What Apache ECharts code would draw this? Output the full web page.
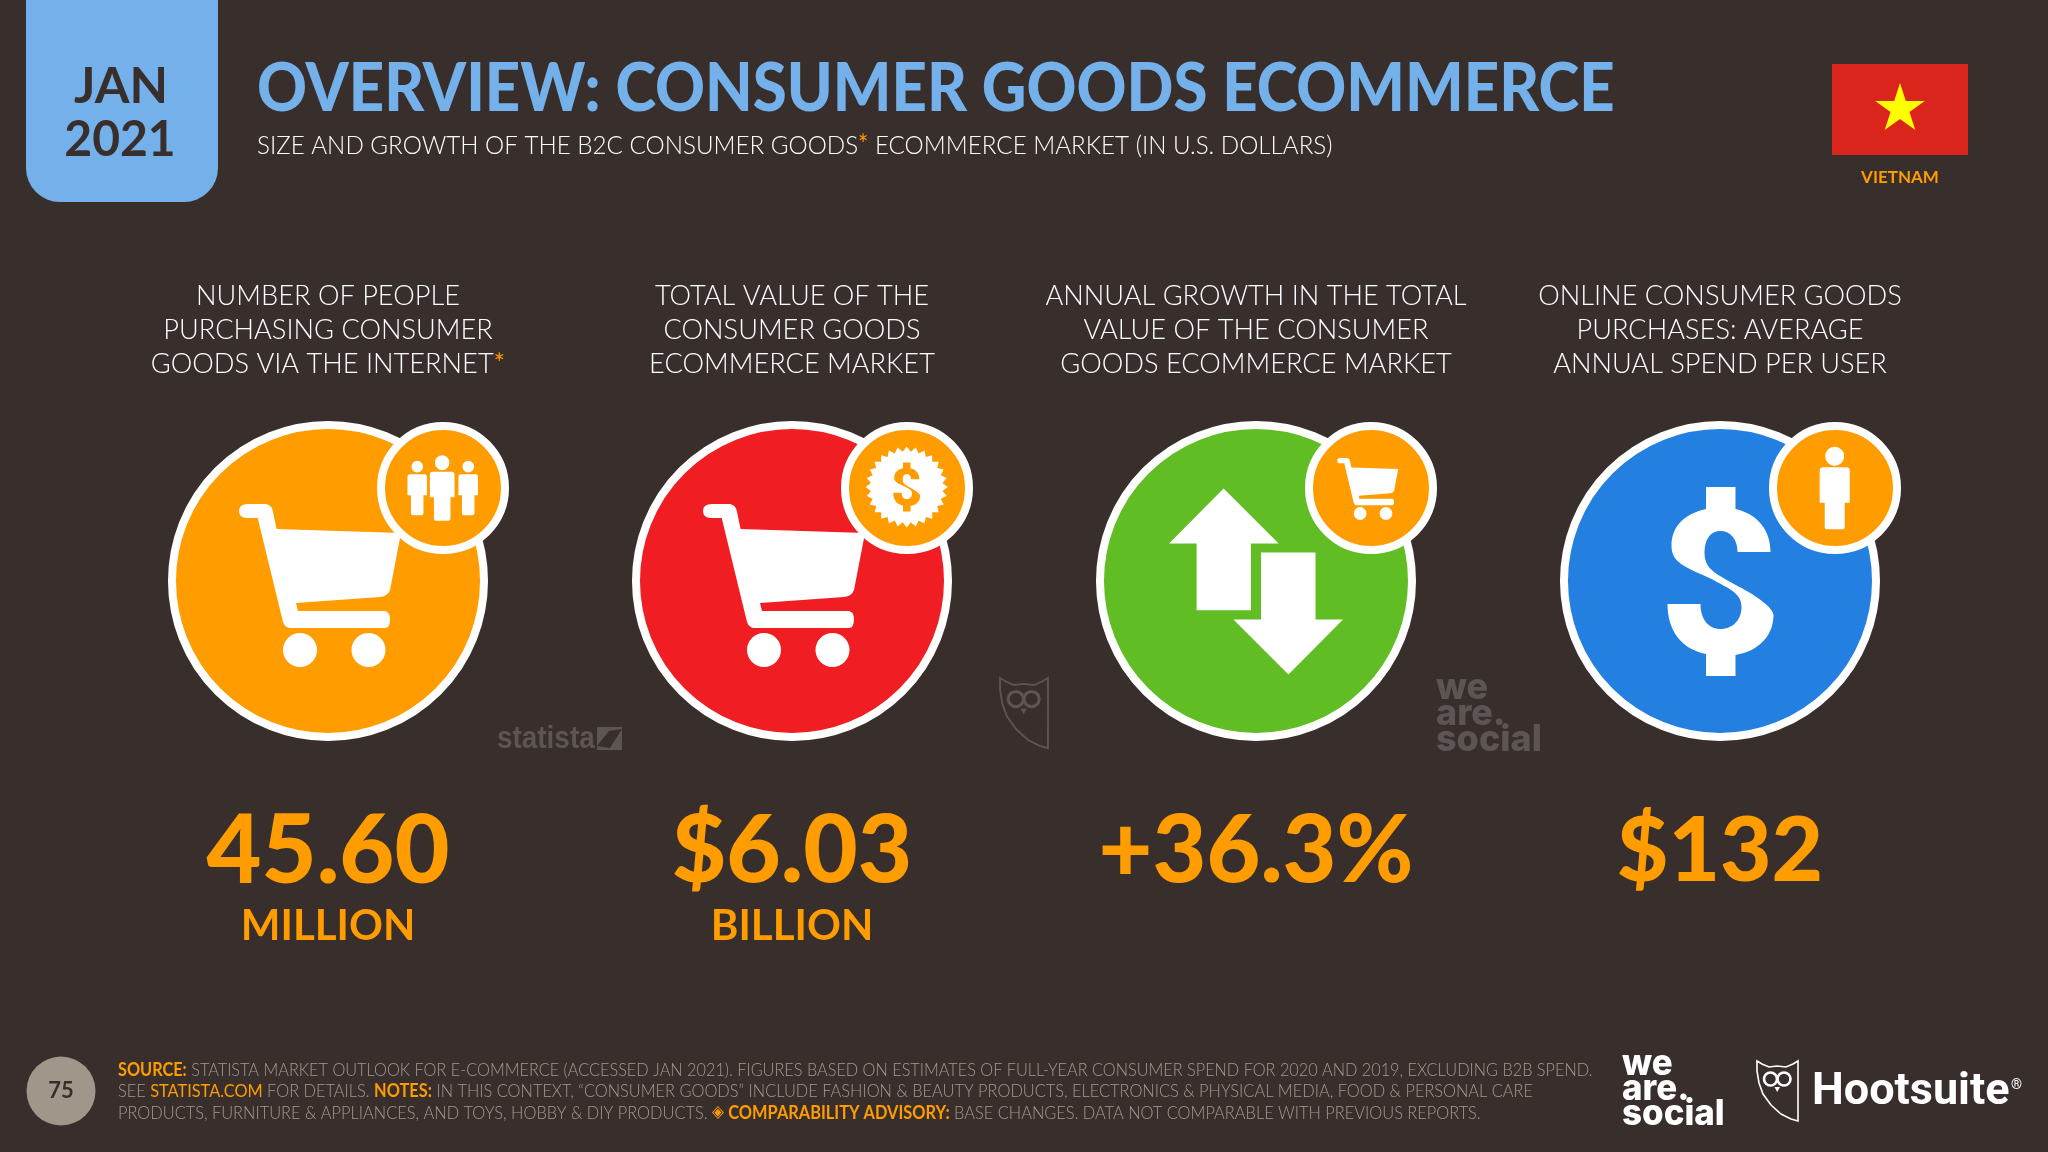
<!DOCTYPE html>
<html>
<head>
    <meta charset="UTF-8">
    <title>Overview: Consumer Goods Ecommerce</title>
    <style type="text/css">
        html, body { margin: 0; padding: 0; background: #382f2d; }
        #main { width: 2048px; height: 1152px; }
    </style>
    <script src="https://cdn.jsdelivr.net/npm/echarts@6/dist/echarts.min.js"></script>
</head>
<body>
<div id="main"></div>
<script>
    // data
    const metricTitles = [
        'NUMBER OF PEOPLE\nPURCHASING CONSUMER\nGOODS VIA THE INTERNET*',
        'TOTAL VALUE OF THE\nCONSUMER GOODS\nECOMMERCE MARKET',
        'ANNUAL GROWTH IN THE TOTAL\nVALUE OF THE CONSUMER\nGOODS ECOMMERCE MARKET',
        'ONLINE CONSUMER GOODS\nPURCHASES: AVERAGE\nANNUAL SPEND PER USER'
    ];
    const metricValues = ['45.60', '$6.03', '+36.3%', '$132'];
    const metricUnits = ['MILLION', 'BILLION', '', ''];

    const circleColors = ['#ff9c00', '#f01e23', '#61bd24', '#2380e0'];
    const valueFontSizes = [95, 94, 93, 89];
    const BG = '#382f2d';
    const ORANGE = '#ff9c00';
    const BLUE = '#74b0ea';
    const GREY = '#a39a8f';
    const MARK = '#5d5553';
    const FONT = 'Lato';

    // icon outlines
    const CART = 'path://M9 0L27 0Q33 1 34 8L37.6 25L162 29L151 86Q149 92 141 93L57 99L59 107L146 107Q151 108 151 115Q151 124 146 124L52 124Q46 124 44 118L18.7 14L8 14Q0 14 0 7Q0 0 9 0Z'
        + 'M44 146a17 17 0 1 0 34 0a17 17 0 1 0 -34 0Z'
        + 'M112.5 146a17 17 0 1 0 34 0a17 17 0 1 0 -34 0Z';
    const ARROWS = 'path://M54.6 0L109.7 55L82 55L82 121.7L27.6 121.7L27.6 55L0 55Z'
        + 'M92 64L146.5 64L146.5 131L174 131L119.5 186L64.4 131L92 131Z';
    const DOLLAR = 'path://M38.5 0L68 0L68 22C90 27 103 43 103 65L70 65C70 52 63 44 53 44C43 44 37 52 37 66'
        + 'C37 84 52 88 70 99C92 110 106 122 106 128C106 148 92 164 68 168L68 189L38.5 189L38.5 167'
        + 'C14 162 0 144 0 117L33 117C33 132 41 142 53 142C66 142 74 132 74 120C74 106 62 102 44 92'
        + 'C18 80 4 76 4 59C4 40 16 27 38.5 22Z';
    const PEOPLE = 'path://M25.5 16.7L44 16.7Q47.1 16.7 47.1 20L47.1 42L43 42L43 63Q43 65.7 40 65.7L29.5 65.7Q26.5 65.7 26.5 63L26.5 42L22.4 42L22.4 20Q22.4 16.7 25.5 16.7Z'
        + 'M27.5 7.5a7.2 7.5 0 1 0 14.4 0a7.2 7.5 0 1 0 -14.4 0Z'
        + 'M2.5 19L17 19Q19.5 19 19.5 21.5L19.5 40L16 40L16 58Q16 60 14 60L5.5 60Q3.5 60 3.5 58L3.5 40L0 40L0 21.5Q0 19 2.5 19Z'
        + 'M4 11.5a5.8 5.8 0 1 0 11.6 0a5.8 5.8 0 1 0 -11.6 0Z'
        + 'M53.6 19L68 19Q70.5 19 70.5 21.5L70.5 40L67 40L67 58Q67 60 65 60L56.5 60Q54.5 60 54.5 58L54.5 40L51 40L51 21.5Q51 19 53.6 19Z'
        + 'M55 11.5a5.8 5.8 0 1 0 11.6 0a5.8 5.8 0 1 0 -11.6 0Z';
    const PERSON = 'path://M3 20.5L27 20.5Q30 20.5 30 23.5L30 56L25 56L25 80Q25 82.6 22 82.6L8 82.6Q5 82.6 5 80L5 56L0 56L0 23.5Q0 20.5 3 20.5Z'
        + 'M5.5 9.6a9.5 9.6 0 1 0 19 0a9.5 9.6 0 1 0 -19 0Z';

    function sealPath() {
        let d = 'path://';
        const teeth = 28;
        for (let i = 0; i < teeth * 2; i++) {
            const r = i % 2 ? 36 : 41;
            const a = Math.PI * i / teeth;
            d += (i ? 'L' : 'M') + (41 + r * Math.sin(a)).toFixed(2) + ' ' + (41 - r * Math.cos(a)).toFixed(2);
        }
        return d + 'Z';
    }

    // one scatter layer, one mark per metric, drawn on the category axis
    function layer(symbols, sizes, offsets, colors, extra) {
        return Object.assign({
            type: 'scatter',
            silent: true,
            symbolKeepAspect: false,
            data: metricTitles.map((t, i) => ({
                value: [i, 0],
                symbol: symbols[i],
                symbolSize: sizes[i],
                symbolOffset: offsets[i],
                itemStyle: { color: colors[i], opacity: 1 }
            }))
        }, extra);
    }

    function textLayer(formatter, dy, label, itemLabel) {
        return {
            type: 'scatter',
            silent: true,
            symbolSize: 1,
            itemStyle: { color: 'transparent' },
            data: metricTitles.map((t, i) => ({ value: [i, 0], label: itemLabel ? itemLabel(i) : {} })),
            label: Object.assign({
                show: true,
                position: 'inside',
                opacity: 1,
                textBorderWidth: 0,
                offset: [0, dy],
                formatter: p => formatter(p.dataIndex)
            }, label)
        };
    }

    const white4 = ['#fff', '#fff', '#fff', '#fff'];
    const orange4 = [ORANGE, ORANGE, ORANGE, ORANGE];
    const badgeOffset = [[115, -93], [115, -93], [115, -93], [115, -93]];
    const none4 = [[0, 0], [0, 0], [0, 0], [0, 0]];

    const series = [
        // main discs
        layer(['circle', 'circle', 'circle', 'circle'], [312, 312, 312, 312], none4, circleColors, {
            itemStyle: { borderColor: '#fff', borderWidth: 8 }
        }),
        // main icons
        layer([CART, CART, ARROWS, DOLLAR],
            [[162, 163], [162, 163], [174, 186], [106, 189]],
            [[-8, 4.5], [-8, 4.5], [0, 0.5], [0.5, 0.5]], white4),
        // badges
        layer(['circle', 'circle', 'circle', 'circle'], [124, 124, 124, 124], badgeOffset, orange4, {
            itemStyle: { borderColor: '#fff', borderWidth: 8 }
        }),
        layer([PEOPLE, sealPath(), CART, PERSON],
            [[70.5, 65.7], [82, 81], [61, 62], [30, 82.6]],
            [[114.7, -93], [114.7, -94], [111.7, -92], [114.7, -93]], white4),
        // dollar inside the seal only
        {
            type: 'scatter',
            silent: true,
            data: [{
                value: [1, 0],
                symbol: DOLLAR,
                symbolSize: [27, 49],
                symbolOffset: [114.7, -94],
                itemStyle: { color: ORANGE, opacity: 1 }
            }]
        },
        // metric headings
        textLayer(i => metricTitles[i].replace('*', '{star|*}'), -251, {
            color: '#fff',
            fontFamily: FONT,
            fontWeight: 300,
            fontSize: 27.2,
            lineHeight: 34,
            rich: {
                star: { color: ORANGE, fontFamily: FONT, fontWeight: 400, fontSize: 27.2, lineHeight: 34 }
            }
        }),
        // big numbers
        textLayer(i => metricValues[i], 271, {
            color: ORANGE,
            fontFamily: FONT,
            fontWeight: 900
        }, i => ({ fontSize: valueFontSizes[i] })),
        // units
        textLayer(i => metricUnits[i], 345, {
            color: ORANGE,
            fontFamily: FONT,
            fontWeight: 700,
            fontSize: 42
        })
    ];

    function owlLogo(x, y, scale, color) {
        return {
            type: 'group', x: x, y: y, scaleX: scale, scaleY: scale, silent: true,
            children: [
                { type: 'polygon', shape: { points: [[0, 0], [5, 3], [12, 6], [20, 5], [29, 6], [36, 3], [41, 0], [41, 60], [34, 58], [24, 53], [14, 44], [6, 33], [2, 22], [0, 10]] },
                    style: { fill: 'none', stroke: color, lineWidth: 1.6 } },
                { type: 'circle', shape: { cx: 13.5, cy: 18, r: 6.5 }, style: { fill: 'none', stroke: color, lineWidth: 2.6 } },
                { type: 'circle', shape: { cx: 27, cy: 18, r: 6.5 }, style: { fill: 'none', stroke: color, lineWidth: 2.6 } },
                { type: 'polygon', shape: { points: [[17.5, 26], [23, 26], [20.2, 31]] }, style: { fill: color } }
            ]
        };
    }

    function weAreSocial(x, y, scale, color) {
        const line = (t, by, sx) => ({
            type: 'text', x: 0, y: by, scaleX: sx,
            style: { text: t, fontFamily: 'Inter', fontWeight: 800, fontSize: 36, fill: color, textVerticalAlign: 'bottom', lineHeight: 36 }
        });
        return {
            type: 'group', x: x, y: y, scaleX: scale, scaleY: scale, silent: true,
            children: [line('we', 27, 0.97), line('are.', 52, 0.97), line('social', 77, 0.97)]
        };
    }

    function starPoints(cx, cy, R) {
        const pts = [];
        const r = R * 0.382;
        for (let i = 0; i < 10; i++) {
            const rad = i % 2 ? r : R;
            const a = Math.PI * i / 5;
            pts.push([cx + rad * Math.sin(a), cy - rad * Math.cos(a)]);
        }
        return pts;
    }

    function t(text, x, y, opt) {
        const o = Object.assign({ type: 'text', x: x, y: y, silent: true }, opt.el || {});
        o.style = Object.assign({ text: text, fontFamily: FONT, textVerticalAlign: 'middle' }, opt);
        delete o.style.el;
        return o;
    }

    const footRich = {
        o: { fill: ORANGE, fontFamily: FONT, fontWeight: 700, fontSize: 18, lineHeight: 21.5 },
        l: { fill: ORANGE, fontFamily: FONT, fontWeight: 400, fontSize: 18, lineHeight: 21.5 },
        d: { fill: ORANGE, fontFamily: 'DejaVu Sans', fontWeight: 400, fontSize: 17, lineHeight: 21.5 }
    };
    const footStyle = sx => ({ fill: GREY, fontWeight: 300, fontSize: 18, rich: footRich, el: { scaleX: sx } });

    const graphics = [
        // date tab
        { type: 'rect', silent: true, shape: { x: 26, y: -40, width: 192, height: 242, r: 34 }, style: { fill: BLUE } },
        t('JAN', 121, 87, { fill: BG, fontWeight: 700, fontSize: 50, textAlign: 'center' }),
        t('2021', 120, 140, { fill: BG, fontWeight: 700, fontSize: 49, textAlign: 'center', el: { scaleX: 0.98 } }),
        // title
        t('OVERVIEW: CONSUMER GOODS ECOMMERCE', 257, 90, { fill: BLUE, fontWeight: 900, fontSize: 66, el: { scaleX: 0.935 } }),
        t('SIZE AND GROWTH OF THE B2C CONSUMER GOODS{s|*} ECOMMERCE MARKET (IN U.S. DOLLARS)', 257, 146, {
            fill: '#fff', fontWeight: 300, fontSize: 26,
            rich: { s: { fill: ORANGE, fontFamily: FONT, fontWeight: 400, fontSize: 26 } },
            el: { scaleX: 0.93 }
        }),
        // flag
        { type: 'rect', silent: true, shape: { x: 1832, y: 64, width: 136, height: 91 }, style: { fill: '#da251d' } },
        { type: 'polygon', silent: true, shape: { points: starPoints(1900, 109, 26) }, style: { fill: '#ffff00' } },
        t('VIETNAM', 1900, 178, { fill: ORANGE, fontWeight: 700, fontSize: 17, textAlign: 'center' }),
        // watermarks
        t('statista', 497, 739, { fill: MARK, fontFamily: 'Liberation Sans', fontWeight: 700, fontSize: 31, el: { scaleX: 0.9 } }),
        { type: 'rect', silent: true, shape: { x: 597, y: 727, width: 25, height: 23 }, style: { fill: MARK } },
        { type: 'polygon', silent: true, shape: { points: [[609, 731], [622, 729], [610, 748], [597, 746]] }, style: { fill: BG } },
        owlLogo(1000, 678, 1.17, MARK),
        weAreSocial(1436, 679, 1.03, MARK),
        // footer
        { type: 'circle', silent: true, shape: { cx: 61, cy: 1091, r: 34.5 }, style: { fill: '#a1968a' } },
        t('75', 61, 1091, { fill: BG, fontWeight: 700, fontSize: 22, textAlign: 'center' }),
        t('{o|SOURCE:} STATISTA MARKET OUTLOOK FOR E-COMMERCE (ACCESSED JAN 2021). FIGURES BASED ON ESTIMATES OF FULL-YEAR CONSUMER SPEND FOR 2020 AND 2019, EXCLUDING B2B SPEND.', 118, 1070, footStyle(0.904)),
        t('SEE {l|STATISTA.COM} FOR DETAILS. {o|NOTES:} IN THIS CONTEXT, \u201CCONSUMER GOODS\u201D INCLUDE FASHION & BEAUTY PRODUCTS, ELECTRONICS & PHYSICAL MEDIA, FOOD & PERSONAL CARE', 118, 1091.5, footStyle(0.909)),
        t('PRODUCTS, FURNITURE & APPLIANCES, AND TOYS, HOBBY & DIY PRODUCTS. {d|\u25C8} {o|COMPARABILITY ADVISORY:} BASE CHANGES. DATA NOT COMPARABLE WITH PREVIOUS REPORTS.', 118, 1113, footStyle(0.91)),
        // logos
        weAreSocial(1622, 1055, 1, '#fff'),
        owlLogo(1757, 1061, 1, '#fff'),
        t('Hootsuite', 1812, 1093, { fill: '#fff', fontFamily: 'Roboto', fontWeight: 700, fontSize: 45 }),
        t('\u00AE', 2011, 1085, { fill: '#fff', fontFamily: 'Roboto', fontSize: 14 })
    ];

    const myChart = echarts.init(document.getElementById('main'));
    myChart.setOption({
        animation: false,
        backgroundColor: BG,
        textStyle: { fontFamily: FONT },
        grid: { left: 96, width: 1856, top: 10, height: 1142 },
        xAxis: { type: 'category', show: false, data: metricTitles },
        yAxis: { type: 'category', show: false, data: ['metrics'] },
        series: series,
        graphic: graphics
    });
</script>
</body>
</html>
